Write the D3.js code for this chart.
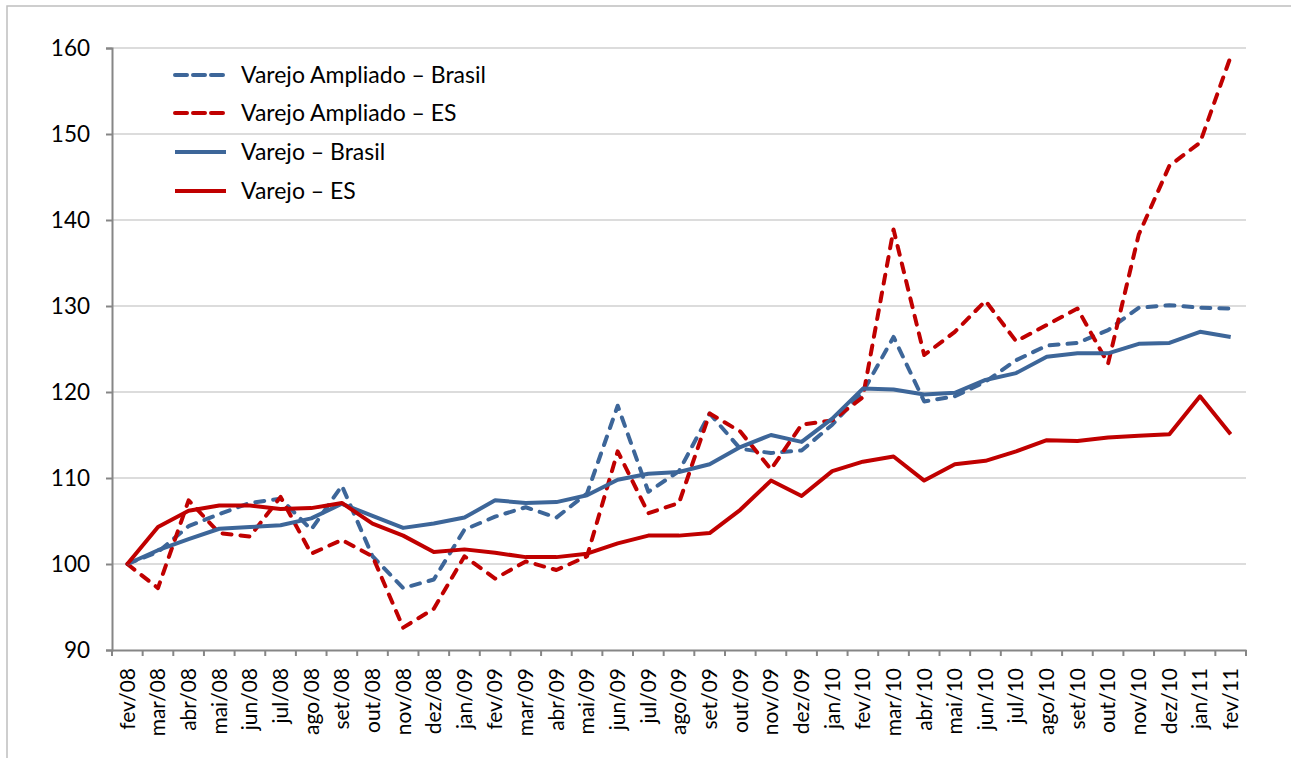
<!DOCTYPE html>
<html><head><meta charset="utf-8">
<script src="https://cdn.jsdelivr.net/npm/d3@7"></script>
<style>body{margin:0;background:#fff;}svg{display:block;}text{font-family:Lato, "Open Sans", sans-serif;fill:#000;}</style>
</head><body>
<script>
const months = ["fev/08","mar/08","abr/08","mai/08","jun/08","jul/08","ago/08","set/08","out/08","nov/08","dez/08","jan/09","fev/09","mar/09","abr/09","mai/09","jun/09","jul/09","ago/09","set/09","out/09","nov/09","dez/09","jan/10","fev/10","mar/10","abr/10","mai/10","jun/10","jul/10","ago/10","set/10","out/10","nov/10","dez/10","jan/11","fev/11"];
const ampliadoBrasil = [100,101.4,104.4,105.8,107.1,107.6,104.0,109.1,100.9,97.2,98.2,104.0,105.5,106.6,105.4,108.2,118.4,108.4,110.8,117.5,113.4,112.9,113.2,116.2,120.0,126.4,118.9,119.5,121.2,123.7,125.4,125.7,127.2,129.8,130.1,129.8,129.7];
const ampliadoES = [100,97.2,107.4,103.6,103.2,107.8,101.2,102.8,100.9,92.6,94.8,100.9,98.3,100.3,99.3,100.9,113.1,105.9,107.1,117.5,115.4,111.0,116.2,116.7,119.4,138.9,124.3,127.0,130.6,125.9,127.8,129.7,123.3,138.3,146.3,149.0,159.0];
const varejoBrasil = [100,101.6,102.9,104.1,104.3,104.5,105.3,107.0,105.6,104.2,104.7,105.4,107.4,107.1,107.2,108.0,109.8,110.5,110.7,111.6,113.6,115.0,114.2,116.9,120.4,120.3,119.7,119.9,121.4,122.2,124.1,124.5,124.5,125.6,125.7,127.0,126.4];
const varejoES = [100,104.3,106.2,106.8,106.8,106.4,106.5,107.1,104.7,103.3,101.4,101.7,101.3,100.8,100.8,101.2,102.4,103.3,103.3,103.6,106.3,109.7,107.9,110.8,111.9,112.5,109.7,111.6,112.0,113.1,114.4,114.3,114.7,114.9,115.1,119.5,115.1];
const yTicks = [90,100,110,120,130,140,150,160];
const seriesNames = ["Varejo Ampliado \u2013 Brasil","Varejo Ampliado \u2013 ES","Varejo \u2013 Brasil","Varejo \u2013 ES"];

const BLUE = "#3D6699", RED = "#C00000";
const series = [
  {name: seriesNames[0], values: ampliadoBrasil, color: BLUE, dash: true},
  {name: seriesNames[1], values: ampliadoES, color: RED, dash: true},
  {name: seriesNames[2], values: varejoBrasil, color: BLUE, dash: false},
  {name: seriesNames[3], values: varejoES, color: RED, dash: false}
];

const W = 1291, H = 758;
const svg = d3.select("body").append("svg").attr("width", W).attr("height", H);
svg.append("rect").attr("x", 7).attr("y", 6).attr("width", 1400).attr("height", 900)
  .attr("fill", "none").attr("stroke", "#bfbfbf").attr("stroke-width", 1.5);

const pLeft = 112, pRight = 1246, pTop = 48, pBottom = 650;
const x = d3.scaleBand().domain(months).range([pLeft, pRight]);
const y = d3.scaleLinear().domain([90, 160]).range([pBottom, pTop]);

// grid
svg.append("g").selectAll("line").data(yTicks.filter(d => d > 90)).join("line")
  .attr("x1", pLeft).attr("x2", pRight).attr("y1", d => y(d)).attr("y2", d => y(d))
  .attr("stroke", "#d0d0d0").attr("stroke-width", 1.5);

// y axis
const yAxis = svg.append("g").attr("transform", `translate(${pLeft},0)`)
  .call(d3.axisLeft(y).tickValues(yTicks).tickSize(6).tickPadding(16).tickFormat(d3.format("d")));
yAxis.select(".domain").attr("stroke", "#868686").attr("stroke-width", 2);
yAxis.selectAll(".tick line").attr("stroke", "#868686").attr("stroke-width", 2);
yAxis.selectAll("text").attr("font-size", 22.5).attr("font-family", "Lato").attr("fill", "#000");

// x axis
const xAxis = svg.append("g").attr("transform", `translate(0,${pBottom})`)
  .call(d3.axisBottom(x).tickSize(0).tickPadding(0));
xAxis.select(".domain").attr("stroke", "#868686").attr("stroke-width", 2);
xAxis.selectAll(".tick text")
  .attr("font-size", 21).attr("font-family", "Lato").attr("fill", "#000")
  .attr("text-anchor", "end").attr("transform", "rotate(-90)")
  .attr("x", -18).attr("y", 0).attr("dy", "0.35em");
// category boundary ticks
const bounds = months.map(m => x(m)).concat([pRight]);
svg.append("g").selectAll("line").data(bounds).join("line")
  .attr("x1", d => d).attr("x2", d => d).attr("y1", pBottom).attr("y2", pBottom + 6)
  .attr("stroke", "#868686").attr("stroke-width", 2);

// lines
const line = d3.line().x((d, i) => x(months[i]) + x.bandwidth() / 2).y(d => y(d));
series.forEach(s => {
  svg.append("path").datum(s.values).attr("d", line)
    .attr("fill", "none").attr("stroke", s.color).attr("stroke-width", 4)
    .attr("stroke-linejoin", "round")
    .attr("stroke-linecap", s.dash ? "round" : "butt")
    .attr("stroke-dasharray", s.dash ? "9,9" : null);
});

// legend
const legY = [75, 113, 152, 191];
const leg = svg.append("g");
series.forEach((s, i) => {
  leg.append("line").attr("x1", 175).attr("x2", 226).attr("y1", legY[i]).attr("y2", legY[i])
    .attr("stroke", s.color).attr("stroke-width", 4)
    .attr("stroke-linecap", s.dash ? "round" : "butt")
    .attr("stroke-dasharray", s.dash ? "12,6" : null);
  leg.append("text").attr("x", 241).attr("y", legY[i]).attr("dy", "0.35em")
    .attr("font-size", 23).text(s.name);
});
</script>
</body></html>
